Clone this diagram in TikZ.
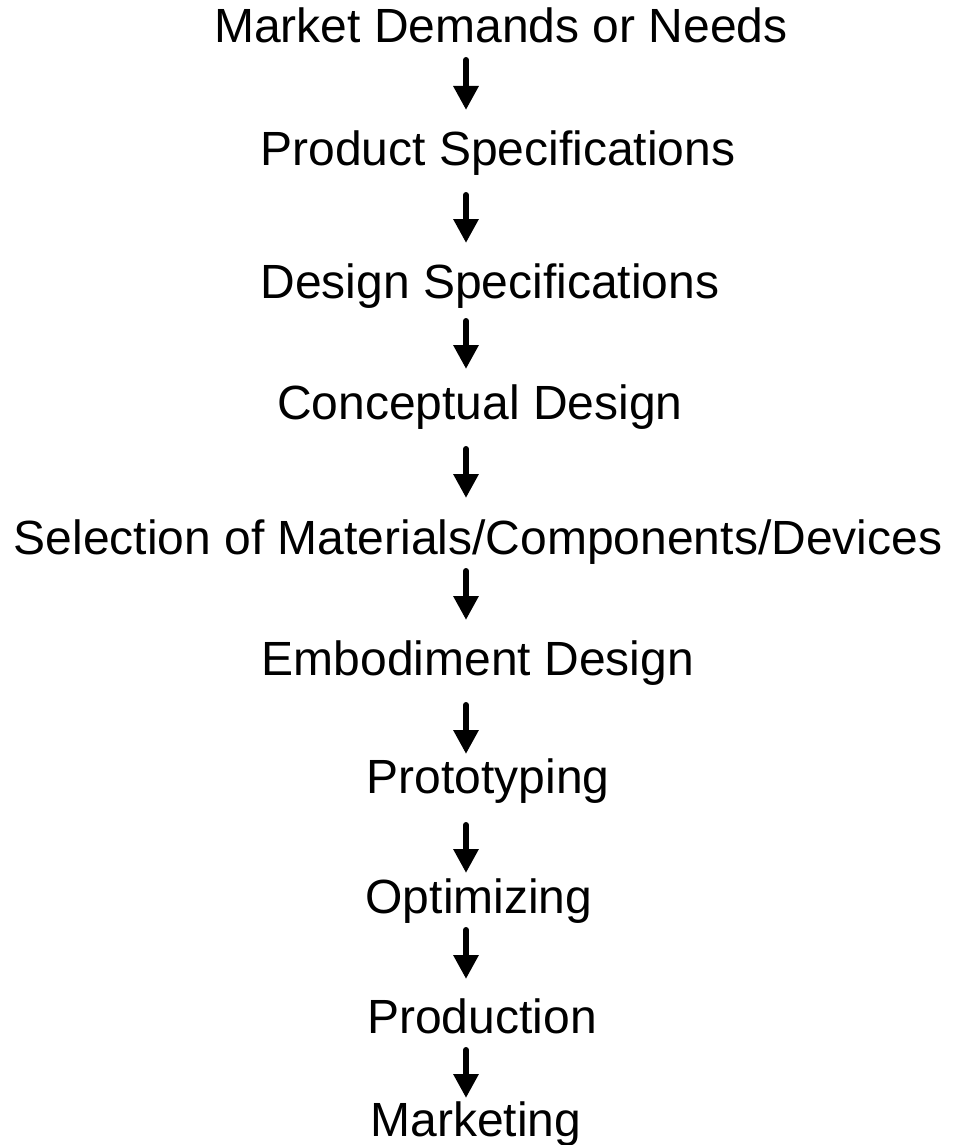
\documentclass[tikz,border=0pt]{standalone}
\usepackage{fontspec}
\setmainfont{Liberation Sans}
\usetikzlibrary{arrows.meta}
\begin{document}
\begin{tikzpicture}[x=1pt,y=-1pt,
  lbl/.style={anchor=base,inner sep=0pt,font=\fontsize{48}{56}\selectfont},
  arr/.style={line width=6pt,line cap=round,-{Triangle[width=24pt,length=24pt]}}]
\useasboundingbox[fill=white] (0,0) rectangle (957,1145);
\node[lbl] (n1) at (501,43) {Market Demands or Needs};
\node[lbl] (n2) at (498,165) {Product Specifications};
\node[lbl] (n3) at (490,298) {Design Specifications};
\node[lbl] (n4) at (480,419) {Conceptual Design};
\node[lbl] (n5) at (478,554) {Selection of Materials/Components/Devices};
\node[lbl] (n6) at (478,675) {Embodiment Design};
\node[lbl] (n7) at (488,793) {Prototyping};
\node[lbl] (n8) at (479,913) {Optimizing};
\node[lbl] (n9) at (482,1033) {Production};
\node[lbl] (n10) at (476,1136) {Marketing};
\foreach \i/\s/\e in {1/60/110,2/195/243,3/321/369,4/449/498,5/571/620,6/705/754,7/825/873,8/930/979,9/1050/1098}{
  \coordinate (a\i s) at (466,\s);
  \coordinate (a\i e) at (466,\e);
  \draw[arr] (a\i s) -- (a\i e);
}
\end{tikzpicture}
\end{document}
